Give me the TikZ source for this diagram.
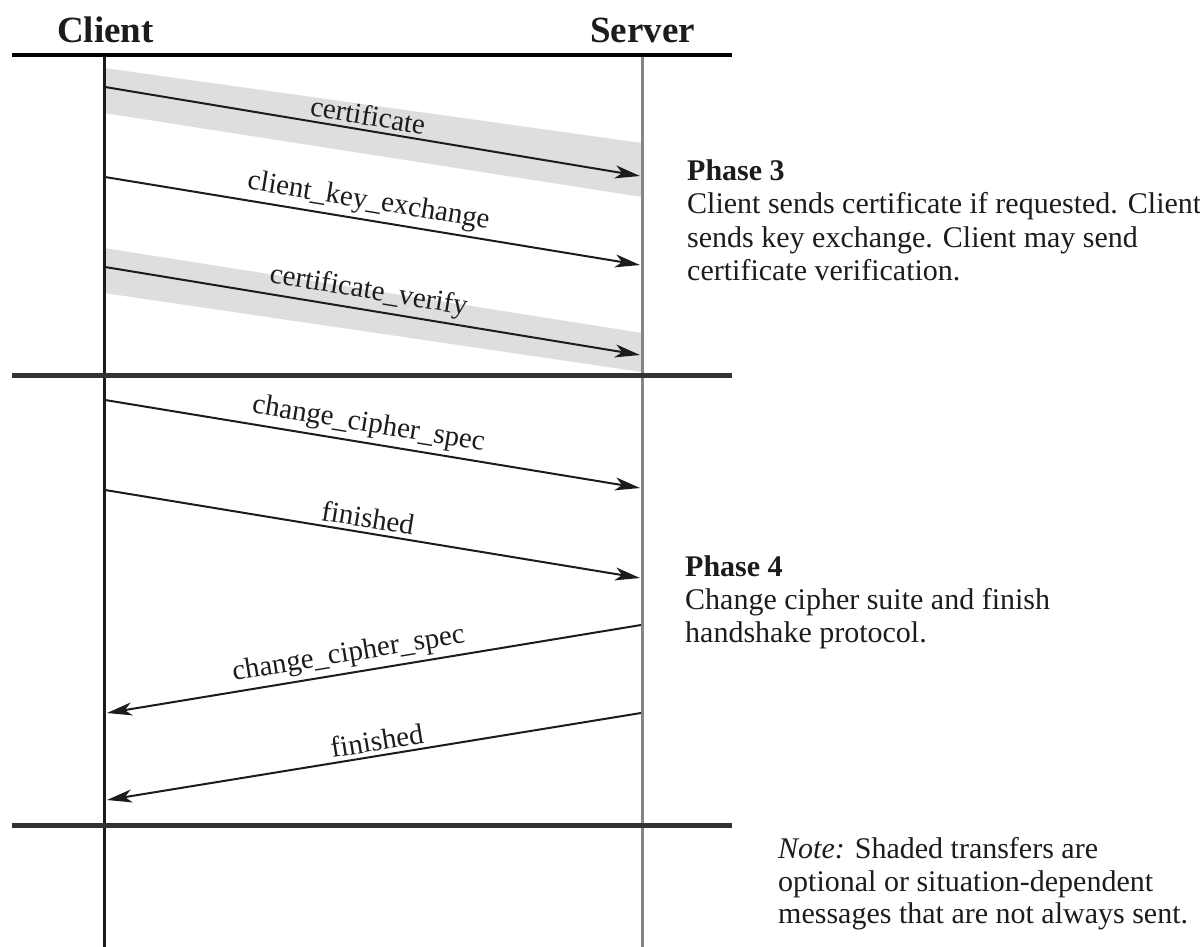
\documentclass[tikz,border=0pt]{standalone}
\usepackage{fontspec}
\setmainfont{Liberation Serif}
\usetikzlibrary{arrows.meta}
\definecolor{bandgray}{HTML}{DEDEDE}
\definecolor{servergray}{HTML}{858585}
\definecolor{rulegray}{HTML}{333333}
\definecolor{inkgray}{HTML}{1C1C1C}
\begin{document}
\begin{tikzpicture}[x=1pt,y=-1pt,
  msg/.style={draw=inkgray, line width=2pt, -{Stealth[length=25pt,width=13pt,inset=7pt]}},
  lbl/.style={above, sloped, inner sep=4pt, text=inkgray, font=\fontsize{29}{33}\selectfont},
  desc/.style={anchor=base west, inner sep=0pt, text=inkgray, font=\fontsize{30}{33}\selectfont},
  head/.style={anchor=base west, inner sep=0pt, text=inkgray, font=\fontsize{37}{40}\selectfont\bfseries},
  band/.style={fill=bandgray, draw=none},
  rule/.style={draw=rulegray, line width=5pt},
]
\useasboundingbox (0,0) rectangle (1200,947);
\fill[white] (0,0) rectangle (1200,947);

% shaded (optional) transfers
\fill[band] (104,68) -- (642,143) -- (642,197) -- (104,113) -- cycle;
\fill[band] (104,248) -- (642,333) -- (642,372) -- (104,293) -- cycle;

% headers
\node[head] (client) at (57,43) {Client};
\node[head] (server) at (590,43) {Server};

% lifelines
\coordinate (ctop) at (104,55);
\coordinate (cbot) at (104,947);
\coordinate (stop) at (642,55);
\coordinate (sbot) at (642,947);
\draw[draw=inkgray, line width=3pt] (ctop) -- (cbot);
\draw[draw=servergray, line width=3pt] (stop) -- (sbot);

% phase separators
\coordinate (r1a) at (12,55);  \coordinate (r1b) at (732,55);
\coordinate (r2a) at (12,375); \coordinate (r2b) at (732,375);
\coordinate (r3a) at (12,825); \coordinate (r3b) at (732,825);
\draw[draw=black, line width=4pt] (r1a) -- (r1b);
\draw[rule] (r2a) -- (r2b);
\draw[rule] (r3a) -- (r3b);

% message end points
\coordinate (c1) at (105,87);  \coordinate (s1) at (640,176);
\coordinate (c2) at (105,177); \coordinate (s2) at (640,265);
\coordinate (c3) at (105,267); \coordinate (s3) at (640,355);
\coordinate (c4) at (105,400); \coordinate (s4) at (640,488);
\coordinate (c5) at (105,490); \coordinate (s5) at (640,578);
\coordinate (s6) at (641,625); \coordinate (c6) at (107,713);
\coordinate (s7) at (641,713); \coordinate (c7) at (107,800);

% Phase 3
\draw[msg] (c1) -- node[lbl, pos=0.487] {certificate} (s1);
\draw[msg] (c2) -- node[lbl, pos=0.487] {client\_key\_exchange} (s2);
\draw[msg] (c3) -- node[lbl, pos=0.487] {certificate\_verify} (s3);

% Phase 4
\draw[msg] (c4) -- node[lbl, pos=0.487] {change\_cipher\_spec} (s4);
\draw[msg] (c5) -- node[lbl, pos=0.487] {finished} (s5);
\draw[msg] (s6) -- node[lbl, pos=0.542] {change\_cipher\_spec} (c6);
\draw[msg] (s7) -- node[lbl, pos=0.49] {finished} (c7);

% descriptions
\node[desc, font=\fontsize{30}{33}\selectfont\bfseries] (p3t) at (687,180) {Phase 3};
\node[desc] (p3a) at (687,213) {Client sends certificate if requested. Client};
\node[desc] (p3b) at (687,247) {sends key exchange. Client may send};
\node[desc] (p3c) at (687,280) {certificate verification.};

\node[desc, font=\fontsize{30}{33}\selectfont\bfseries] (p4t) at (685,576) {Phase 4};
\node[desc] (p4a) at (685,609) {Change cipher suite and finish};
\node[desc] (p4b) at (685,642) {handshake protocol.};

\node[desc] (n1) at (778,858) {\textit{Note:} Shaded transfers are};
\node[desc] (n2) at (778,891) {optional or situation-dependent};
\node[desc] (n3) at (778,923) {messages that are not always sent.};
\end{tikzpicture}
\end{document}
